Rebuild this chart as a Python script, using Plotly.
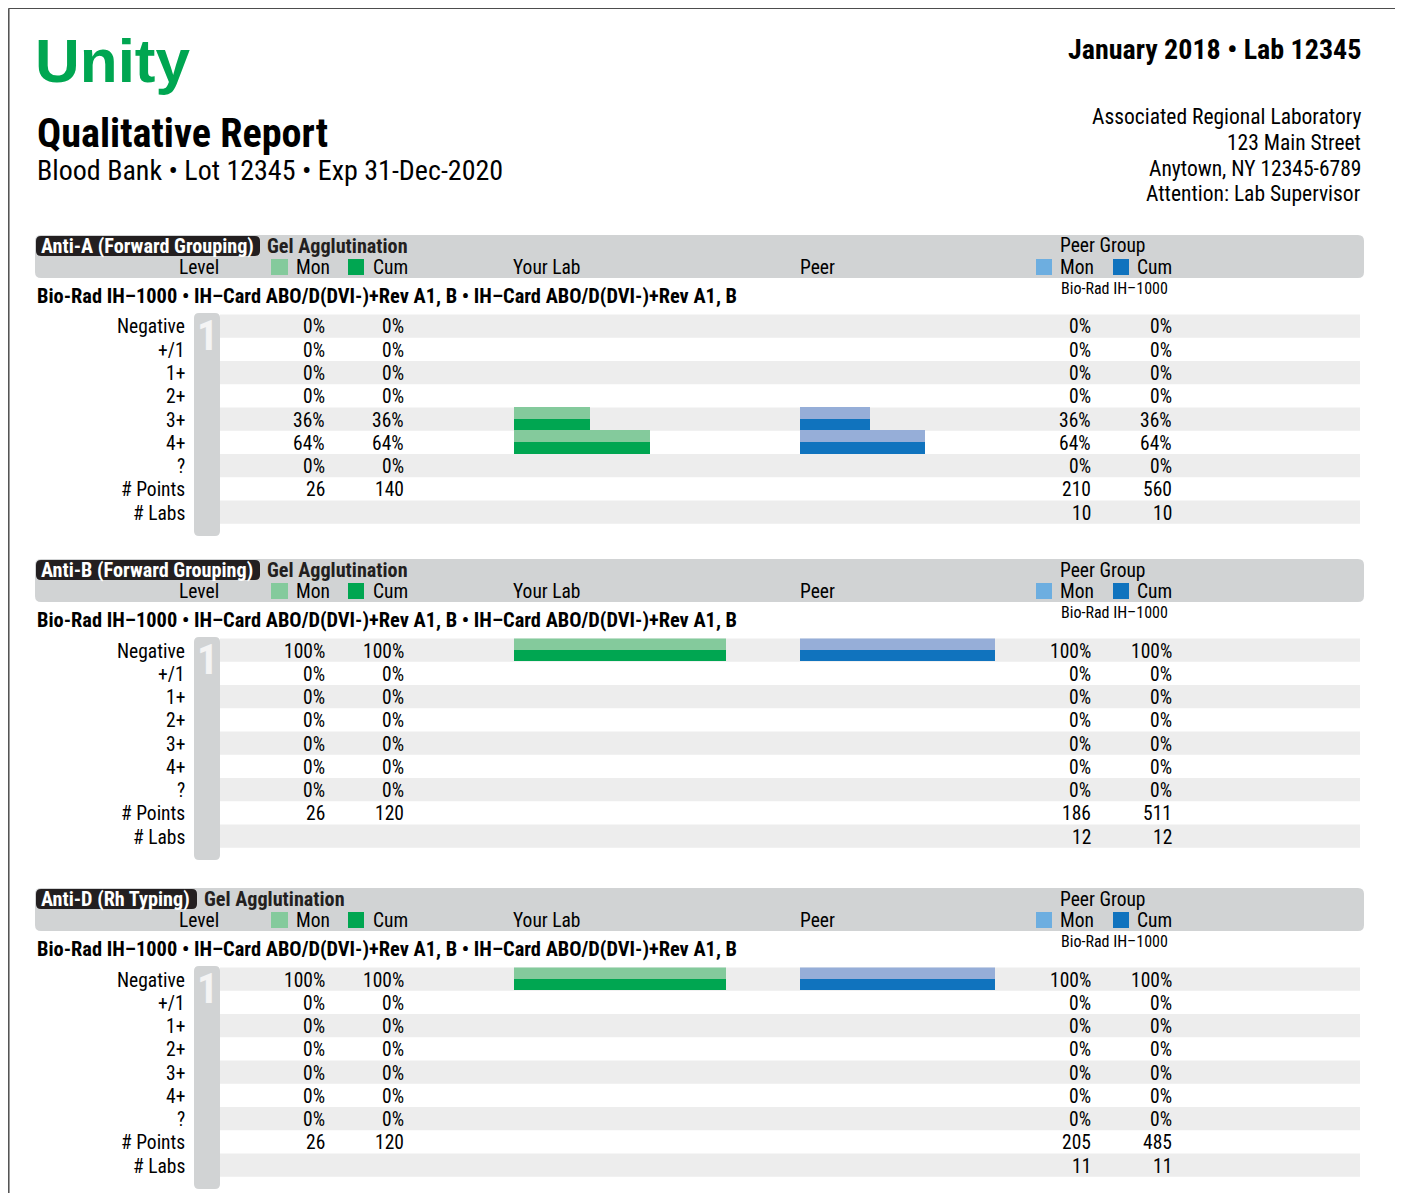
import plotly.graph_objects as go

W, H = 1403, 1193

# ---------------- data ----------------
levels = ["Negative", "+/1", "1+", "2+", "3+", "4+", "?"]
count_rows = ["# Points", "# Labs"]
analytes = ["Anti-A (Forward Grouping)", "Anti-B (Forward Grouping)", "Anti-D (Rh Typing)"]
method = "Gel Agglutination"
instrument = "Bio-Rad IH–1000 • IH–Card ABO/D(DVI-)+Rev A1, B • IH–Card ABO/D(DVI-)+Rev A1, B"
peer_group_name = "Bio-Rad IH–1000"

antiA_lab_mon = [0, 0, 0, 0, 36, 64, 0]
antiA_lab_cum = [0, 0, 0, 0, 36, 64, 0]
antiA_peer_mon = [0, 0, 0, 0, 36, 64, 0]
antiA_peer_cum = [0, 0, 0, 0, 36, 64, 0]
antiA_lab_points = [26, 140]
antiA_peer_points = [210, 560]
antiA_peer_labs = [10, 10]

antiB_lab_mon = [100, 0, 0, 0, 0, 0, 0]
antiB_lab_cum = [100, 0, 0, 0, 0, 0, 0]
antiB_peer_mon = [100, 0, 0, 0, 0, 0, 0]
antiB_peer_cum = [100, 0, 0, 0, 0, 0, 0]
antiB_lab_points = [26, 120]
antiB_peer_points = [186, 511]
antiB_peer_labs = [12, 12]

antiD_lab_mon = [100, 0, 0, 0, 0, 0, 0]
antiD_lab_cum = [100, 0, 0, 0, 0, 0, 0]
antiD_peer_mon = [100, 0, 0, 0, 0, 0, 0]
antiD_peer_cum = [100, 0, 0, 0, 0, 0, 0]
antiD_lab_points = [26, 120]
antiD_peer_points = [205, 485]
antiD_peer_labs = [11, 11]

sections = [
    dict(lab_mon=antiA_lab_mon, lab_cum=antiA_lab_cum, peer_mon=antiA_peer_mon, peer_cum=antiA_peer_cum,
         lab_points=antiA_lab_points, peer_points=antiA_peer_points, peer_labs=antiA_peer_labs),
    dict(lab_mon=antiB_lab_mon, lab_cum=antiB_lab_cum, peer_mon=antiB_peer_mon, peer_cum=antiB_peer_cum,
         lab_points=antiB_lab_points, peer_points=antiB_peer_points, peer_labs=antiB_peer_labs),
    dict(lab_mon=antiD_lab_mon, lab_cum=antiD_lab_cum, peer_mon=antiD_peer_mon, peer_cum=antiD_peer_cum,
         lab_points=antiD_lab_points, peer_points=antiD_peer_points, peer_labs=antiD_peer_labs),
]

# ---------------- styles / layout ----------------
NARROW = "Roboto Condensed, Roboto, Open Sans, sans-serif"
WIDE = "Liberation Sans, Arial, sans-serif"
GREEN_L, GREEN_D = "#84CA9C", "#00A651"
BLUE_L, BLUE_D = "#96AED8", "#1073BE"
BLUE_LEG_L = "#6DAEE0"
BAND = "#D1D3D4"
STRIPE = "#EDEDED"
INK = "#231F20"
FS = 19.5           # body text size
FSB = 20.2          # bold header text size

sec_tops = [235, 559, 888]
label_box_right = [260, 260, 197]
ROW_H = 23.25
ROW0 = 91           # offset of first row centre from section top
LAB_X0, LAB_X100 = 514, 726
PEER_X0, PEER_X100 = 800, 995
OFF = 8             # page body margin of the html page


def X(px):
    return (px - OFF) / W


def Y(py):
    return 1 - (py - OFF) / H


annotations = []
shapes = []


def text(t, x, y, size, bold=False, color="black", xanchor="left", family=NARROW):
    if bold:
        t = "<b>" + t + "</b>"
    annotations.append(dict(text=t, x=X(x), y=Y(y), xref="paper", yref="paper",
                            xanchor=xanchor, yanchor="middle", showarrow=False,
                            font=dict(family=family, size=size, color=color)))


def rect(x0, y0, x1, y1, color, layer="below"):
    shapes.append(dict(type="rect", xref="paper", yref="paper", x0=X(x0), x1=X(x1),
                       y0=Y(y0), y1=Y(y1), fillcolor=color, line=dict(width=0), layer=layer))


def rrect(x0, y0, x1, y1, r, color, layer="below"):
    p = (f"M {X(x0 + r)},{Y(y0)} L {X(x1 - r)},{Y(y0)} Q {X(x1)},{Y(y0)} {X(x1)},{Y(y0 + r)} "
         f"L {X(x1)},{Y(y1 - r)} Q {X(x1)},{Y(y1)} {X(x1 - r)},{Y(y1)} "
         f"L {X(x0 + r)},{Y(y1)} Q {X(x0)},{Y(y1)} {X(x0)},{Y(y1 - r)} "
         f"L {X(x0)},{Y(y0 + r)} Q {X(x0)},{Y(y0)} {X(x0 + r)},{Y(y0)} Z")
    shapes.append(dict(type="path", xref="paper", yref="paper", path=p, fillcolor=color,
                       line=dict(width=0), layer=layer))


def line(x0, y0, x1, y1):
    shapes.append(dict(type="line", xref="paper", yref="paper", x0=X(x0), x1=X(x1),
                       y0=Y(y0), y1=Y(y1), line=dict(color="#4D4D4D", width=1.5)))


# page frame
line(8.8, 8.2, 1398, 8.2)
line(8.8, 8.2, 8.8, H + 20)
line(1398, 8.2, 1398, H + 20)

# page header
text("Unity", 33, 60, 62, bold=True, color=GREEN_D, family=WIDE)
text("Qualitative Report", 35, 133, 40.2, bold=True)
text("Blood Bank • Lot 12345 • Exp 31-Dec-2020", 35, 171, 28)
text("January 2018 • Lab 12345", 1363, 50, 28, bold=True, xanchor="right")
for i, t in enumerate(["Associated Regional Laboratory", "123 Main Street",
                       "Anytown, NY 12345-6789", "Attention: Lab Supervisor"]):
    text(t, 1363, 117 + i * 25.6, 21.5, xanchor="right")

fig = go.Figure()
layout_axes = {}

for s, sec in enumerate(sections):
    T = sec_tops[s]
    # header band
    rrect(35, T, 1364, T + 43, 6, BAND)
    rrect(36, T + 1, label_box_right[s], T + 21, 5, INK, layer="above")
    text(analytes[s], 39, T + 11, FSB, bold=True, color="white")
    text(method, label_box_right[s] + 5, T + 11, FSB, bold=True, color=INK)
    text("Level", 221, T + 32, FS, xanchor="right")
    rect(271, T + 24, 288, T + 40, GREEN_L, layer="above")
    text("Mon", 294, T + 32, FS)
    rect(348, T + 24, 364, T + 40, GREEN_D, layer="above")
    text("Cum", 371, T + 32, FS)
    text("Your Lab", 511, T + 32, FS)
    text("Peer", 798, T + 32, FS)
    text("Peer Group", 1058, T + 11, FS)
    rect(1036, T + 24, 1052, T + 40, BLUE_LEG_L, layer="above")
    text("Mon", 1058, T + 32, FS)
    rect(1113, T + 24, 1129, T + 40, BLUE_D, layer="above")
    text("Cum", 1135, T + 32, FS)
    # instrument line
    text(instrument, 35, T + 61, 20.4, bold=True)
    text(peer_group_name, 1059, T + 53, 16)

    # rows
    row_top = T + ROW0 - ROW_H / 2
    row_labels = levels + count_rows
    for r, lab in enumerate(row_labels):
        cy = T + ROW0 + r * ROW_H
        if r % 2 == 0:
            rect(220, cy - ROW_H / 2, 1360, cy + ROW_H / 2, STRIPE)
        text(lab, 187, cy + 1, FS, xanchor="right")
    for r, lv in enumerate(levels):
        cy = T + ROW0 + r * ROW_H + 1
        text(f"{sec['lab_mon'][r]}%", 327, cy, FS, xanchor="right")
        text(f"{sec['lab_cum'][r]}%", 406, cy, FS, xanchor="right")
        text(f"{sec['peer_mon'][r]}%", 1093, cy, FS, xanchor="right")
        text(f"{sec['peer_cum'][r]}%", 1174, cy, FS, xanchor="right")
    cy = T + ROW0 + 7 * ROW_H + 1
    text(str(sec['lab_points'][0]), 327, cy, FS, xanchor="right")
    text(str(sec['lab_points'][1]), 406, cy, FS, xanchor="right")
    text(str(sec['peer_points'][0]), 1093, cy, FS, xanchor="right")
    text(str(sec['peer_points'][1]), 1174, cy, FS, xanchor="right")
    cy = T + ROW0 + 8 * ROW_H + 1
    text(str(sec['peer_labs'][0]), 1093, cy, FS, xanchor="right")
    text(str(sec['peer_labs'][1]), 1174, cy, FS, xanchor="right")

    # level badge
    rrect(194, T + 78, 220, T + 301, 5, BAND)
    text("1", 207, T + 100, 42, bold=True, color="#F4F4F4", xanchor="center")

    # bar subplots
    xl, xp, yy = 2 * s + 1, 2 * s + 2, s + 1
    xl_name = "x" if xl == 1 else f"x{xl}"
    xp_name = f"x{xp}"
    y_name = "y" if yy == 1 else f"y{yy}"
    for xname, mon, cum, cl, cd in [(xl_name, sec['lab_mon'], sec['lab_cum'], GREEN_L, GREEN_D),
                                    (xp_name, sec['peer_mon'], sec['peer_cum'], BLUE_L, BLUE_D)]:
        fig.add_trace(go.Bar(y=levels, x=mon, orientation="h", marker=dict(color=cl, line=dict(width=0)),
                             xaxis=xname, yaxis=y_name, showlegend=False, hoverinfo="skip"))
        fig.add_trace(go.Bar(y=levels, x=cum, orientation="h", marker=dict(color=cd, line=dict(width=0)),
                             xaxis=xname, yaxis=y_name, showlegend=False, hoverinfo="skip"))
    ax_common = dict(visible=False, showgrid=False, zeroline=False, fixedrange=True)
    layout_axes["xaxis" if xl == 1 else f"xaxis{xl}"] = dict(
        domain=[X(LAB_X0), X(LAB_X100)], range=[0, 100], anchor=y_name, **ax_common)
    layout_axes[f"xaxis{xp}"] = dict(
        domain=[X(PEER_X0), X(PEER_X100)], range=[0, 100], anchor=y_name, **ax_common)
    layout_axes["yaxis" if yy == 1 else f"yaxis{yy}"] = dict(
        domain=[max(0, Y(row_top + 9 * ROW_H)), Y(row_top)], range=[8.5, -0.5], type="category",
        categoryorder="array", categoryarray=levels, anchor=xl_name, **ax_common)

fig.update_layout(
    width=W, height=H, margin=dict(l=0, r=0, t=0, b=0),
    paper_bgcolor="white", plot_bgcolor="rgba(0,0,0,0)",
    barmode="group", bargap=0, bargroupgap=0,
    shapes=shapes, annotations=annotations, showlegend=False,
    **layout_axes,
)
fig.write_html("out.html")
